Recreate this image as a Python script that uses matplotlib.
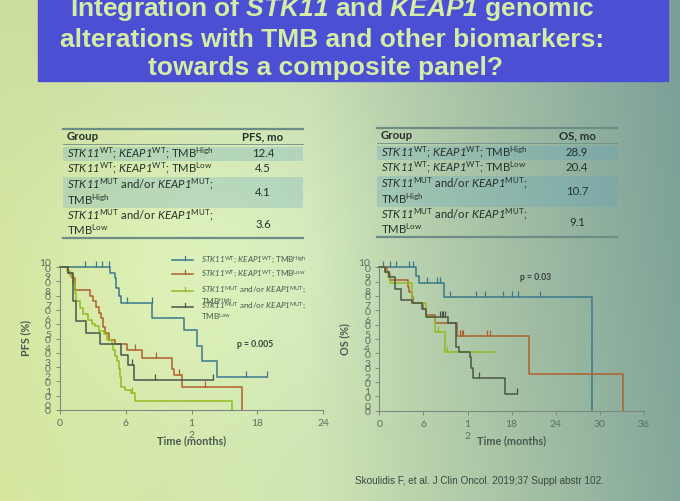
import numpy as np
import matplotlib
matplotlib.use("Agg")
import matplotlib.pyplot as plt
from matplotlib.patches import Rectangle
from matplotlib.lines import Line2D
from matplotlib.transforms import blended_transform_factory

plt.rcParams['font.family'] = ['Lato', 'DejaVu Sans']
plt.rcParams['mathtext.fontset'] = 'custom'
plt.rcParams['mathtext.rm'] = 'Lato'
plt.rcParams['mathtext.it'] = 'Lato:italic'
plt.rcParams['mathtext.sf'] = 'Lato:italic'
plt.rcParams['mathtext.bf'] = 'Lato:bold'
plt.rcParams['mathtext.tt'] = 'Liberation Sans:bold:italic'

# ---- data ----
groups = [
    [r"$\mathsf{STK11}^{\mathrm{WT}}$; $\mathsf{KEAP1}^{\mathrm{WT}}$; $\mathrm{TMB}^{\mathrm{High}}$"],
    [r"$\mathsf{STK11}^{\mathrm{WT}}$; $\mathsf{KEAP1}^{\mathrm{WT}}$; $\mathrm{TMB}^{\mathrm{Low}}$"],
    [r"$\mathsf{STK11}^{\mathrm{MUT}}$ and/or $\mathsf{KEAP1}^{\mathrm{MUT}}$;", r"$\mathrm{TMB}^{\mathrm{High}}$"],
    [r"$\mathsf{STK11}^{\mathrm{MUT}}$ and/or $\mathsf{KEAP1}^{\mathrm{MUT}}$;", r"$\mathrm{TMB}^{\mathrm{Low}}$"],
]
pfs_median = [12.4, 4.5, 4.1, 3.6]
os_median = [28.9, 20.4, 10.7, 9.1]
colors = ["#3b788a", "#b0602e", "#94bb22", "#4a5548"]

# PFS curves (months, %)
pfs_t = [
    [0, 4.6, 5.0, 5.1, 5.4, 5.6, 8.4, 11.35, 12.5, 13.0, 14.3, 18.9],
    [0, 0.76, 1.1, 1.4, 2.7, 3.0, 3.3, 3.55, 3.75, 3.95, 4.1, 4.5, 5.0, 6.1, 7.5, 10.2, 10.4, 11.1, 16.6],
    [0, 0.6, 0.9, 1.2, 1.4, 1.5, 1.8, 2.1, 2.6, 2.9, 3.2, 3.6, 4.0, 4.3, 4.7, 4.85, 5.0, 5.2, 5.35, 5.5,
     5.6, 5.9, 6.5, 6.85, 15.7],
    [0, 0.76, 1.2, 1.5, 2.4, 3.65, 5.6, 6.2, 6.75, 14.0],
]
pfs_s = [
    [100, 96, 92, 85, 80, 74.6, 64.5, 56, 44.5, 34, 23, 23],
    [100, 96, 92, 84, 80, 76, 72, 68, 64, 58, 54, 49, 46, 42, 36.5, 29, 24.5, 16.4, 0],
    [100, 97, 94, 89, 82, 76, 71, 67, 63, 60, 58.5, 55, 53, 49, 46, 42, 38, 34, 29, 23,
     16.4, 14, 11.7, 6.3, 0],
    [100, 96, 76, 62, 54, 46, 38.5, 31.5, 21, 21],
]
pfs_cens = [
    [2.3, 3.3, 3.8, 4.5, 6.1, 8.35, 17.0, 18.9],
    [6.85, 8.8, 10.9, 13.2],
    [6.6],
    [6.55, 8.7, 14.0],
]

# OS curves (months, %)
os_t = [
    [0, 5.0, 5.4, 8.8, 28.9],
    [0, 1.0, 1.3, 1.5, 3.9, 4.1, 4.4, 4.6, 6.0, 6.4, 7.6, 10.6, 20.4, 33.1],
    [0, 0.8, 1.2, 1.5, 4.5, 6.4, 7.6, 8.9, 15.9],
    [0, 0.8, 1.3, 2.1, 2.9, 4.4, 5.8, 6.4, 9.4, 10.4, 10.9, 12.3, 12.5, 12.8, 17.1, 18.7],
]
os_s = [
    [100, 94, 89, 79, 0],
    [100, 97, 95, 91, 86.5, 83, 79, 75, 71, 67, 61, 52, 25.6, 0],
    [100, 97, 93, 89, 75, 65.6, 54.7, 40.7, 40.7],
    [100, 97, 93, 85, 77, 75, 71, 65.6, 61, 44.7, 41, 37.7, 29.5, 22.6, 11.4, 11.4],
]
os_cens = [
    [0.45, 1.45, 2.3, 4.1, 4.6, 6.5, 7.8, 8.3, 9.6, 13.1, 14.4, 16.8, 18.0, 18.8, 21.9],
    [11.0, 11.2, 11.4, 14.6, 15.0],
    [8.0, 9.25],
    [8.3, 8.5, 8.7, 9.0, 13.5, 18.7],
]

pfs_xticks = [0, 6, 12, 18, 24]
pfs_xlabels = ["0", "6", "1", "18", "24"]
os_xticks = [0, 6, 12, 18, 24, 30, 36]
os_xlabels = ["0", "6", "1", "18", "24", "30", "36"]
yticks = list(range(0, 101, 10))

# ---- figure & slide background ----
fig = plt.figure(figsize=(6.8, 5.01), dpi=100)
bg = fig.add_axes([0, 0, 1, 1])
W, H = 680, 501
X, Y = np.meshgrid(np.linspace(0, 1, W), np.linspace(0, 1, H))
stops = [0.0, 0.45, 1.0]
cols = np.array([[0.82, 0.89, 0.62], [0.80, 0.88, 0.70], [0.50, 0.64, 0.60]])
img = np.zeros((H, W, 3))
for c in range(3):
    img[:, :, c] = np.interp(X, stops, cols[:, c])
glow = 0.06 * np.exp(-((X - 0.3) ** 2 / 0.06 + (Y - 0.5) ** 2 / 0.1))
img += glow[:, :, None]
img += (0.04 * (Y - 0.5))[:, :, None] * np.array([1, 1, 0.2])
img = np.clip(img, 0, 1)
bg.imshow(img, extent=[0, W, H, 0], aspect='auto')
bg.set_xlim(0, W)
bg.set_ylim(H, 0)
bg.axis('off')

# title bar
bg.add_patch(Rectangle((38, -5), 630, 86, color="#4b4fd4", zorder=1))
tcol = "#d4eca6"
tkw = dict(ha='center', va='baseline', color=tcol, fontsize=19, fontweight='bold',
           family='Liberation Sans', zorder=2)
bg.text(332, 16, r"Integration of $\mathtt{STK11}$ and $\mathtt{KEAP1}$ genomic", **tkw)
bg.text(332, 47, "alterations with TMB and other biomarkers:", **tkw)
bg.text(326, 75, "towards a composite panel?", **tkw)

# ---- tables ----
txt = "#25322d"
rule = "#6c8c86"
fs_tab = 8.2


def draw_table(x0, x1, dy, head, vals):
    bg.plot([x0, x1], [129 + dy, 129 + dy], color=rule, lw=1.6)
    bg.plot([x0, x1], [144 + dy, 144 + dy], color=rule, lw=0.6)
    bg.plot([x0, x1], [237.5 + dy, 237.5 + dy], color=rule, lw=1.6)
    bg.add_patch(Rectangle((x0, 147 + dy), x1 - x0, 14, color="#4f9cc4", alpha=0.24, lw=0))
    bg.add_patch(Rectangle((x0, 176.5 + dy), x1 - x0, 31, color="#4f9cc4", alpha=0.24, lw=0))
    vx = x1 - 40
    bg.text(x0 + 4, 136.5 + dy, "Group", fontsize=fs_tab, fontweight='bold', color=txt, va='center')
    bg.text(vx, 136.5 + dy, head, fontsize=fs_tab, fontweight='bold', color=txt, va='center', ha='center')
    line_y = [[153.5], [168.5], [184, 200], [215, 230]]
    val_y = [153.5, 168.5, 192.5, 224]
    for g, ly, v, vy in zip(groups, line_y, vals, val_y):
        for s, yy in zip(g, ly):
            bg.text(x0 + 4, yy + dy, s, fontsize=fs_tab, color=txt, va='center')
        bg.text(vx, vy + dy, f"{v}", fontsize=fs_tab, color=txt, va='center', ha='center')


draw_table(63, 303, 0, "PFS, mo", pfs_median)
draw_table(377, 617, -1, "OS, mo", os_median)

# ---- KM plots ----
axl = fig.add_axes([60 / W, 1 - 410 / H, 263 / W, 143 / H])
axr = fig.add_axes([379.3 / W, 1 - 410.7 / H, 264.7 / W, 143.4 / H])


def km(ax, ts, ss, cs):
    for t, s, c, col in zip(ts, ss, cs, colors):
        t = np.array(t)
        s = np.array(s)
        ax.step(t, s, where='post', color=col, lw=1.1, clip_on=False)
        idx = np.searchsorted(t, c, side='right') - 1
        ax.plot(c, s[idx], ls='none', marker=2, ms=4.5, mew=0.9, color=col, clip_on=False)


def style(ax, xmax, xt, xl, ylab):
    ax.set_facecolor('none')
    ax.set_xlim(0, xmax)
    ax.set_ylim(0, 100)
    for sp in ['top', 'right']:
        ax.spines[sp].set_visible(False)
    for sp in ['left', 'bottom']:
        ax.spines[sp].set_color("#7a8a7e")
        ax.spines[sp].set_linewidth(0.8)
    ax.set_xticks(xt)
    ax.set_xticklabels(xl)
    ax.set_yticks(yticks)
    ax.set_yticklabels([f"{v // 10}\n0" if v else "0\n0" for v in yticks],
                       linespacing=0.5)
    ax.tick_params(colors="#7a8a7e", labelcolor="#5e6e62", labelsize=7.5, length=3, width=0.7)
    ax.set_xlabel("Time (months)", fontsize=7.8, fontweight='bold', color="#4a5a50", labelpad=5)
    ax.set_ylabel(ylab, fontsize=7.8, fontweight='bold', color="#4a5a50", labelpad=6)
    tr = blended_transform_factory(ax.transData, ax.transAxes)
    ax.text(12, -0.18, "2", transform=tr, fontsize=7.5, color="#5e6e62", ha='center', va='center')


km(axl, pfs_t, pfs_s, pfs_cens)
km(axr, os_t, os_s, os_cens)
style(axl, 24, pfs_xticks, pfs_xlabels, "PFS (%)")
style(axr, 36, os_xticks, os_xlabels, "OS (%)")
axl.text(17.8, 46, "p = 0.005", fontsize=6.2, fontweight='bold', color="#33403a", ha='center', va='center')
axr.text(21.2, 93, "p = 0.03", fontsize=6.2, fontweight='bold', color="#33403a", ha='center', va='center')

# legend (left plot)
leg_y = [260, 274, 290.5, 306.5]
fs_leg = 5.9
for col, yy, g in zip(colors, leg_y, groups):
    bg.add_line(Line2D([171.7, 193.3], [yy, yy], color=col, lw=1.1))
    bg.add_line(Line2D([185, 185], [yy, yy - 4], color=col, lw=0.9))
    bg.text(201, yy, g[0], fontsize=fs_leg, color="#4a5a50", va='center')
bg.text(201, 301.5, groups[2][1], fontsize=fs_leg, color="#4a5a50", va='center')
bg.text(201, 317, groups[3][1], fontsize=fs_leg, color="#4a5a50", va='center')

bg.text(355, 481, "Skoulidis F, et al. J Clin Oncol. 2019;37 Suppl abstr 102.",
        family='Liberation Sans', fontsize=7.2, color="#3a4a42", va='center')

fig.savefig("out.png", dpi=100)
